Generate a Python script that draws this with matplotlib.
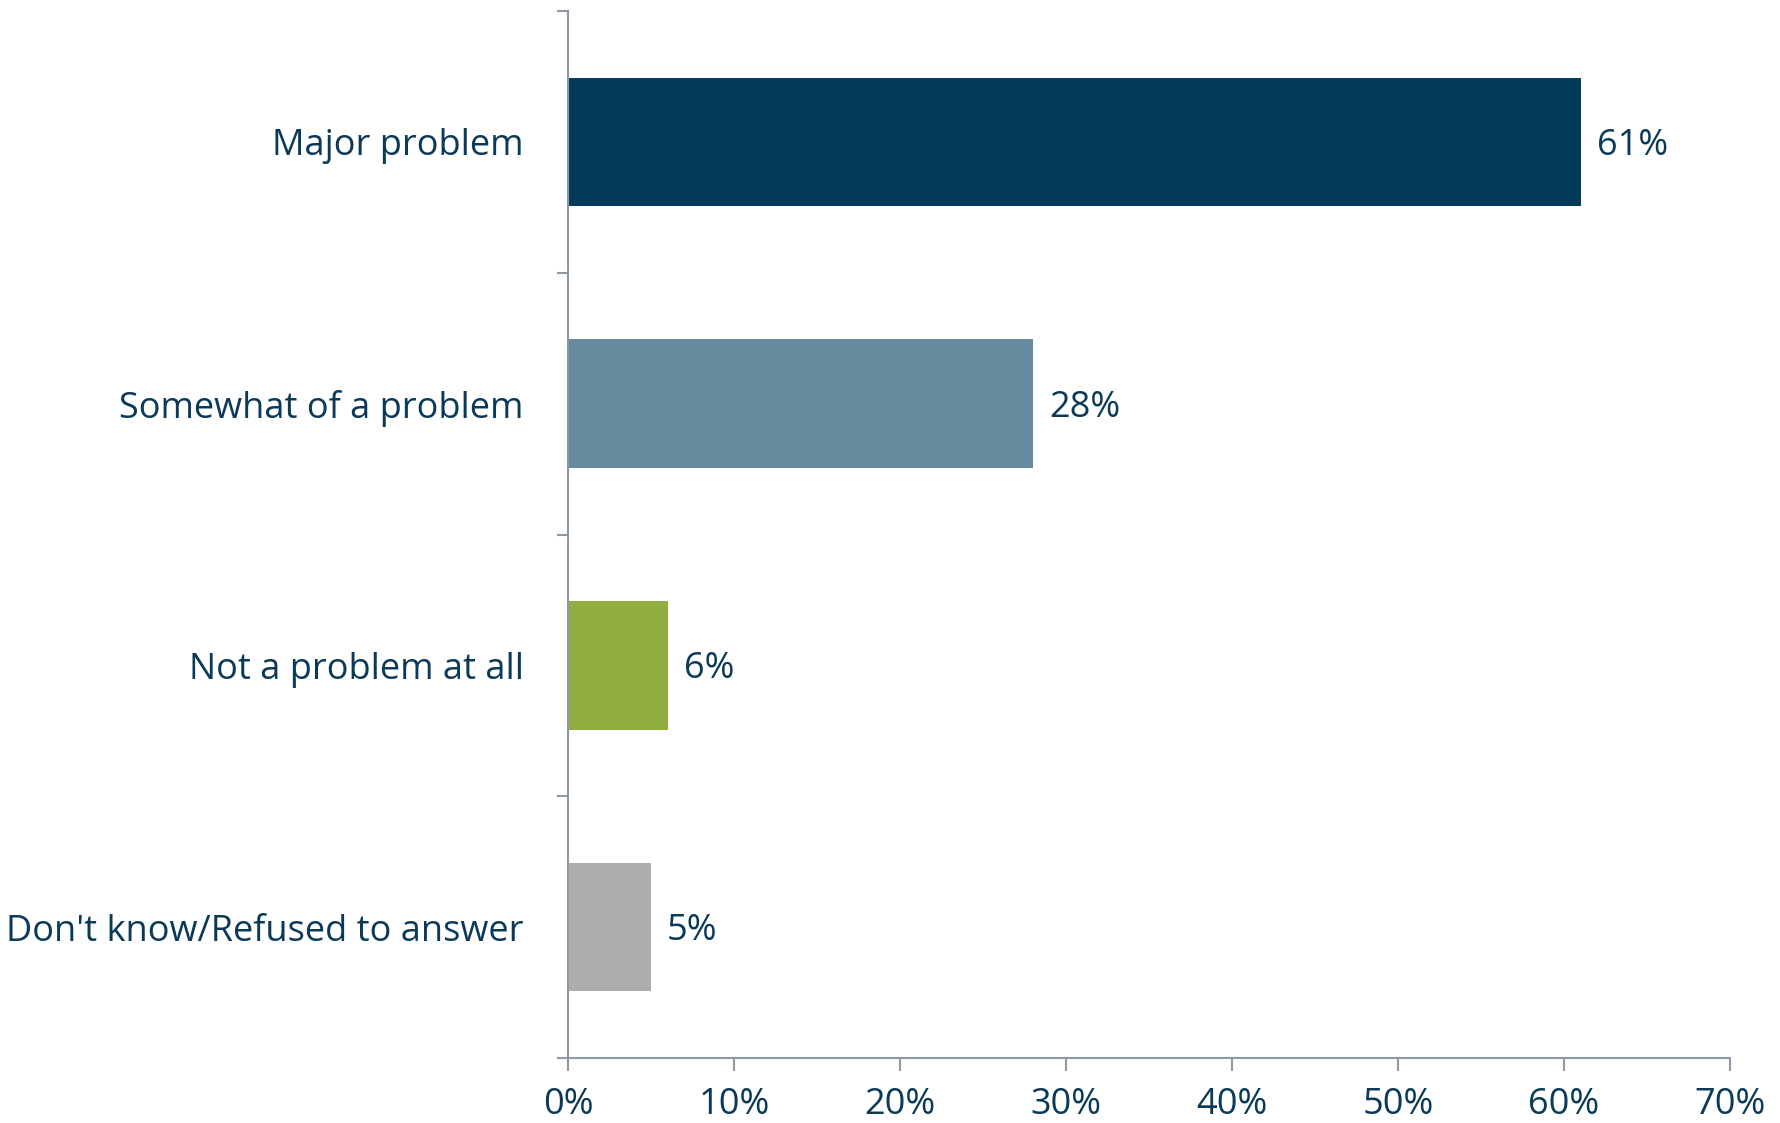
import matplotlib
matplotlib.use("Agg")
import matplotlib.pyplot as plt
import numpy as np

categories = ["Major problem", "Somewhat of a problem", "Not a problem at all", "Don't know/Refused to answer"]
values = [61, 28, 6, 5]
bar_colors = ["#043A5A", "#668A9E", "#8FAE3E", "#ADADAD"]
xticks = [0, 10, 20, 30, 40, 50, 60, 70]
xtick_labels = [f"{v}%" for v in xticks]

text_color = "#0B3A58"
axis_color = "#8E98A6"
fs = 26

plt.rcParams['font.family'] = ['Open Sans', 'DejaVu Sans']

fig = plt.figure(figsize=(17.81, 11.23), dpi=100)
ax = fig.add_axes([568/1781, 1 - 1058/1123, (1730-568)/1781, (1058-11)/1123])

y = np.arange(len(categories))
ax.barh(y, values, height=0.49, color=bar_colors)

for yi, v in zip(y, values):
    ax.annotate(f"{v}%", xy=(v, yi), xytext=(16, -4), textcoords="offset pixels",
                va="center", ha="left", fontsize=fs, color=text_color)

ax.set_xlim(0, 70)
ax.set_ylim(len(categories) - 0.5, -0.5)
ax.set_xticks(xticks)
ax.set_xticklabels(xtick_labels, fontsize=fs, color=text_color)
ax.set_yticks(y)
ax.set_yticklabels(categories, fontsize=fs, color=text_color)
ax.set_yticks(np.arange(-0.5, len(categories), 1.0), minor=True)

ax.tick_params(axis='y', which='major', length=0, pad=32)
ax.tick_params(axis='y', which='minor', length=8, width=1.5, color=axis_color, direction='out')
ax.tick_params(axis='x', which='major', length=9, width=1.5, color=axis_color, pad=12)

for s in ['top', 'right']:
    ax.spines[s].set_visible(False)
for s in ['left', 'bottom']:
    ax.spines[s].set_color(axis_color)
    ax.spines[s].set_linewidth(1.5)

fig.savefig("out.png", dpi=100, facecolor="white")
